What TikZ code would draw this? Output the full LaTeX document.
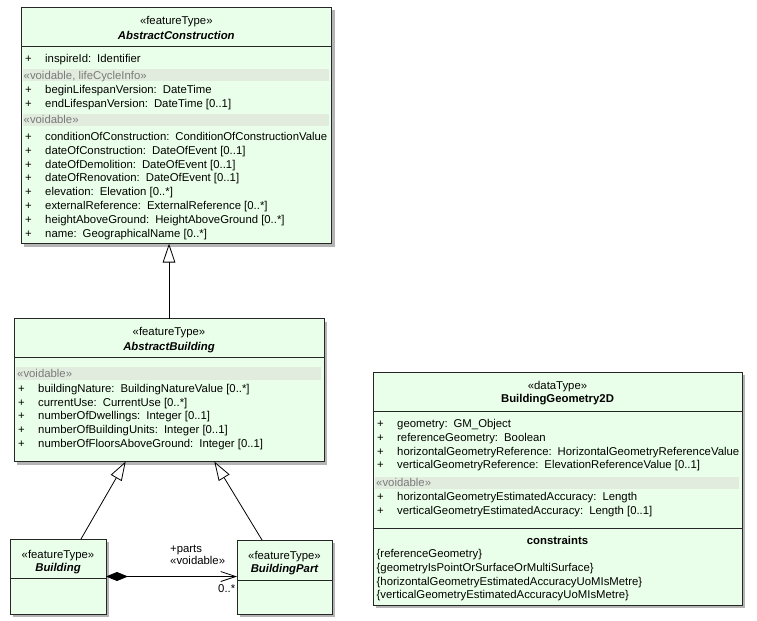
\documentclass[tikz,border=0pt]{standalone}
\usepackage{fontspec}
\setmainfont{Liberation Sans}
\usetikzlibrary{arrows.meta,shadows,calc}
\definecolor{clsfill}{HTML}{EAFFEA}
\definecolor{bandfill}{HTML}{E1ECDE}
\definecolor{bandtext}{HTML}{7A7A7A}
\definecolor{shadowc}{HTML}{B4B4B4}
\newcommand\attrsep{:\hspace{6bp}}
\begin{document}
\begin{tikzpicture}[x=1bp,y=-1bp,
  font=\fontsize{11.35bp}{13bp}\selectfont,
  cls/.style={draw=black!85, line width=0.9bp, fill=clsfill, anchor=north west,
    inner sep=0, outer sep=0,
    drop shadow={shadow xshift=3bp, shadow yshift=-3bp, fill=shadowc, opacity=1}},
  divline/.style={draw=black!85, line width=0.9bp},
  band/.style={fill=bandfill},
  attr/.style={anchor=west, inner sep=0, text height=8bp, text depth=0bp},
  plus/.style={anchor=center, inner sep=0, text height=8bp, text depth=0bp},
  bandlbl/.style={attr, text=bandtext},
  hdr/.style={anchor=center, inner sep=0, text height=8bp, text depth=0bp},
  hname/.style={hdr, font=\fontsize{11.35bp}{13bp}\selectfont\bfseries\itshape},
  gen/.style={draw=black, line width=0.8bp, -{Triangle[length=19bp,width=12.5bp,fill=white]}},
  comp/.style={draw=black, line width=0.8bp, {Diamond[length=22bp,width=9bp,fill=black]}-{Straight Barb[length=15bp,width=10bp]}}
]
\useasboundingbox (0,0) rectangle (757,621);

% ---------- class boxes ----------
\node[cls, minimum width=310.5bp, minimum height=236.5bp] (ac) at (21,7) {};
\node[cls, minimum width=310bp, minimum height=143bp] (ab) at (14,318.5) {};
\node[cls, minimum width=369bp, minimum height=233bp] (bg) at (373,372) {};
\node[cls, minimum width=96bp, minimum height=75bp] (bld) at (10,539) {};
\node[cls, minimum width=95bp, minimum height=74bp] (bp) at (237,540) {};

% ---------- AbstractConstruction ----------
\node[hdr] (acst) at (176.3,20.5) {«featureType»};
\node[hname] (acnm) at (176.3,35.5) {AbstractConstruction};
\draw[divline] (21,46.5) -- (331.5,46.5);
\fill[band] (22.5,69) rectangle (328.5,81.5);
\fill[band] (22.5,114) rectangle (328.5,126);
\node[plus] at (28.5,58.5) {+};
\node[attr] at (45,58.5) {inspireId\attrsep Identifier};
\node[bandlbl] at (23.5,75.3) {«voidable, lifeCycleInfo»};
\node[plus] at (28.5,90) {+};
\node[attr] at (45,90) {beginLifespanVersion\attrsep DateTime};
\node[plus] at (28.5,103.5) {+};
\node[attr] at (45,103.5) {endLifespanVersion\attrsep DateTime [0..1]};
\node[bandlbl] at (23.5,120) {«voidable»};
\foreach \yy/\tt in {136.5/{conditionOfConstruction\attrsep ConditionOfConstructionValue},
  150.3/{dateOfConstruction\attrsep DateOfEvent [0..1]},
  164.1/{dateOfDemolition\attrsep DateOfEvent [0..1]},
  177.9/{dateOfRenovation\attrsep DateOfEvent [0..1]},
  191.7/{elevation\attrsep Elevation [0..*]},
  205.5/{externalReference\attrsep ExternalReference [0..*]},
  219.3/{heightAboveGround\attrsep HeightAboveGround [0..*]},
  233.1/{name\attrsep GeographicalName [0..*]}}{
  \node[plus] at (28.5,\yy) {+};
  \node[attr] at (45,\yy) {\tt};
}

% ---------- AbstractBuilding ----------
\node[hdr] (abst) at (169,331.7) {«featureType»};
\node[hname] (abnm) at (169,346.7) {AbstractBuilding};
\draw[divline] (14,357.7) -- (324,357.7);
\fill[band] (15.5,367) rectangle (321,379.5);
\node[bandlbl] at (17,373.8) {«voidable»};
\foreach \yy/\tt in {388.3/{buildingNature\attrsep BuildingNatureValue [0..*]},
  402.1/{currentUse\attrsep CurrentUse [0..*]},
  415.9/{numberOfDwellings\attrsep Integer [0..1]},
  429.7/{numberOfBuildingUnits\attrsep Integer [0..1]},
  443.5/{numberOfFloorsAboveGround\attrsep Integer [0..1]}}{
  \node[plus] at (21.5,\yy) {+};
  \node[attr] at (38,\yy) {\tt};
}

% ---------- BuildingGeometry2D ----------
\node[hdr] (bgst) at (557.5,385) {«dataType»};
\node[hdr, font=\fontsize{11.35bp}{13bp}\selectfont\bfseries] (bgnm) at (557.5,398.5) {BuildingGeometry2D};
\draw[divline] (373,411.5) -- (742,411.5);
\foreach \yy/\tt in {423.5/{geometry\attrsep GM\_Object},
  437.3/{referenceGeometry\attrsep Boolean},
  451.1/{horizontalGeometryReference\attrsep HorizontalGeometryReferenceValue},
  464.9/{verticalGeometryReference\attrsep ElevationReferenceValue [0..1]}}{
  \node[plus] at (380.5,\yy) {+};
  \node[attr] at (397,\yy) {\tt};
}
\fill[band] (374.5,476.5) rectangle (739,488.5);
\node[bandlbl] at (376,482.5) {«voidable»};
\foreach \yy/\tt in {496.5/{horizontalGeometryEstimatedAccuracy\attrsep Length},
  510.3/{verticalGeometryEstimatedAccuracy\attrsep Length [0..1]}}{
  \node[plus] at (380.5,\yy) {+};
  \node[attr] at (397,\yy) {\tt};
}
\draw[divline] (373,528) -- (742,528);
\node[hdr, font=\fontsize{11.35bp}{13bp}\selectfont\bfseries] (cons) at (557.5,540.5) {constraints};
\foreach \yy/\tt in {553.5/{\{referenceGeometry\}},
  567.3/{\{geometryIsPointOrSurfaceOrMultiSurface\}},
  581.1/{\{horizontalGeometryEstimatedAccuracyUoMIsMetre\}},
  594.9/{\{verticalGeometryEstimatedAccuracyUoMIsMetre\}}}{
  \node[attr] at (376.5,\yy) {\tt};
}

% ---------- Building ----------
\node[hdr] (bldst) at (58,554.3) {«featureType»};
\node[hname] (bldnm) at (58,567.3) {Building};
\draw[divline] (10,578.3) -- (106,578.3);

% ---------- BuildingPart ----------
\node[hdr] (bpst) at (284.5,555) {«featureType»};
\node[hname] (bpnm) at (284.5,568) {BuildingPart};
\draw[divline] (237,580) -- (332,580);

% ---------- connectors ----------
\draw[gen] (ab.north) -- (ab.north |- ac.south);
\coordinate (g1a) at ($(bld.north west)+(71,0)$);
\coordinate (g1b) at ($(ab.south west)+(111.7,0)$);
\coordinate (g2a) at ($(bp.north west)+(25,0)$);
\coordinate (g2b) at ($(ab.south west)+(200.3,0)$);
\draw[gen] (g1a) -- (g1b);
\draw[gen] (g2a) -- (g2b);
\draw[comp] (bld.east) -- (bld.east -| bp.west);
\node[attr] (lparts) at (170,548.3) {+parts};
\node[attr] (lvoid) at (170,560.5) {«voidable»};
\node[attr] (lmult) at (218,588.5) {0..*};
\end{tikzpicture}
\end{document}
